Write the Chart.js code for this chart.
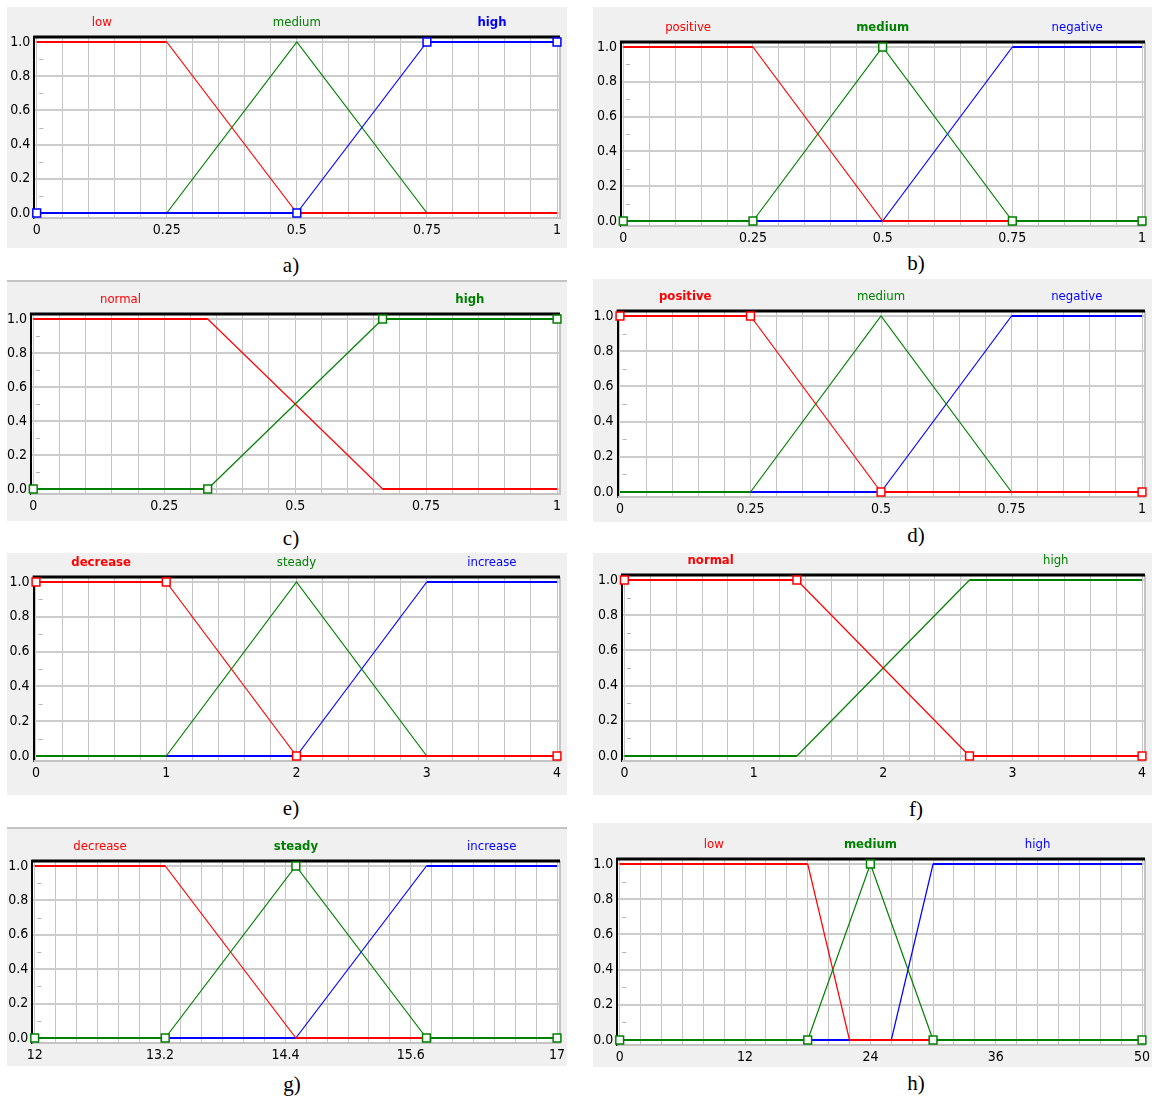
<!DOCTYPE html>
<html>
<head>
<meta charset="utf-8">
<script src="https://cdn.jsdelivr.net/npm/chart.js@4.4.1/dist/chart.umd.min.js"></script>
<style>
  html, body { margin: 0; padding: 0; background: #fff; }
  body { width: 1152px; height: 1100px; position: relative; overflow: hidden; }
  .panel { position: absolute; background: #f0f0f0; }
  .panel.edged { box-shadow: inset 0 2px 0 #c4c4c4; }
  .panel canvas { display: block; }
  .caption {
    position: absolute;
    font-family: 'Liberation Serif', 'Times New Roman', serif;
    font-size: 21px;
    line-height: 1;
    transform: translate(-50%, -50%);
    color: #000;
  }
</style>
</head>
<body>
<script>
// membership functions, [x, degree] pairs
const aLow = [[0, 1], [0.25, 1], [0.5, 0], [1, 0]];
const aMedium = [[0, 0], [0.25, 0], [0.5, 1], [0.75, 0], [1, 0]];
const aHigh = [[0, 0], [0.5, 0], [0.75, 1], [1, 1]];

const bPositive = [[0, 1], [0.25, 1], [0.5, 0], [1, 0]];
const bMedium = [[0, 0], [0.25, 0], [0.5, 1], [0.75, 0], [1, 0]];
const bNegative = [[0, 0], [0.5, 0], [0.75, 1], [1, 1]];

const cNormal = [[0, 1], [0.333, 1], [0.667, 0], [1, 0]];
const cHigh = [[0, 0], [0.333, 0], [0.667, 1], [1, 1]];

const dPositive = [[0, 1], [0.25, 1], [0.5, 0], [1, 0]];
const dMedium = [[0, 0], [0.25, 0], [0.5, 1], [0.75, 0], [1, 0]];
const dNegative = [[0, 0], [0.5, 0], [0.75, 1], [1, 1]];

const eDecrease = [[0, 1], [1, 1], [2, 0], [4, 0]];
const eSteady = [[0, 0], [1, 0], [2, 1], [3, 0], [4, 0]];
const eIncrease = [[0, 0], [2, 0], [3, 1], [4, 1]];

const fNormal = [[0, 1], [1.333, 1], [2.667, 0], [4, 0]];
const fHigh = [[0, 0], [1.333, 0], [2.667, 1], [4, 1]];

const gDecrease = [[12, 1], [13.25, 1], [14.5, 0], [17, 0]];
const gSteady = [[12, 0], [13.25, 0], [14.5, 1], [15.75, 0], [17, 0]];
const gIncrease = [[12, 0], [14.5, 0], [15.75, 1], [17, 1]];

const hLow = [[0, 1], [18, 1], [22, 0], [50, 0]];
const hMedium = [[0, 0], [18, 0], [24, 1], [30, 0], [50, 0]];
const hHigh = [[0, 0], [26, 0], [30, 1], [50, 1]];

// tick labels
const unitTicks = [0, 0.25, 0.5, 0.75, 1];
const fourTicks = [0, 1, 2, 3, 4];
const gTicks = [12, 13.2, 14.4, 15.6, 17];
const hTicks = [0, 12, 24, 36, 50];
const yTickLabels = [0, 0.2, 0.4, 0.6, 0.8, 1];

const RED = '#ff0000';
const GREEN = '#008000';
const BLUE = '#0000ff';
const NARROW = "'Liberation Sans Narrow', 'DejaVu Sans Condensed', 'Arial Narrow', sans-serif";

// box = panel background [left, top, width, height]; px0/px1 = pixel of first/last x tick,
// py1/py0 = pixel of degree 1 / 0 (whole pixels so the flat lines stay crisp)
const panels = [
  { box: [7, 7, 560, 241], px0: 36.7, px1: 558.7, py1: 42, py0: 213, caption: ['a)', 291, 265],
    ticks: unitTicks, step: 0.05, selected: 'high',
    series: [['low', aLow, RED], ['medium', aMedium, GREEN], ['high', aHigh, BLUE]] },
  { box: [593, 7, 559, 241], px0: 623.3, px1: 1148.7, py1: 47, py0: 221, caption: ['b)', 916, 263],
    ticks: unitTicks, step: 0.05, selected: 'medium',
    series: [['positive', bPositive, RED], ['medium', bMedium, GREEN], ['negative', bNegative, BLUE]] },
  { box: [7, 280, 560, 241], px0: 33.3, px1: 564.3, py1: 319, py0: 489, caption: ['c)', 291, 538],
    ticks: unitTicks, step: 0.05, selected: 'high', edged: true,
    series: [['normal', cNormal, RED], ['high', cHigh, GREEN]] },
  { box: [593, 279, 559, 243], px0: 620, px1: 1146, py1: 316, py0: 492, caption: ['d)', 916, 535],
    ticks: unitTicks, step: 0.05, selected: 'positive',
    series: [['positive', dPositive, RED], ['medium', dMedium, GREEN], ['negative', dNegative, BLUE]] },
  { box: [7, 553, 560, 242], px0: 36, px1: 557.3, py1: 582, py0: 756, caption: ['e)', 291, 808],
    ticks: fourTicks, step: 0.2, selected: 'decrease',
    series: [['decrease', eDecrease, RED], ['steady', eSteady, GREEN], ['increase', eIncrease, BLUE]] },
  { box: [593, 553, 559, 242], px0: 624.4, px1: 1145.9, py1: 580, py0: 756, caption: ['f)', 916, 809],
    ticks: fourTicks, step: 0.2, selected: 'normal',
    series: [['normal', fNormal, RED], ['high', fHigh, GREEN]] },
  { box: [7, 827, 560, 239], px0: 34.7, px1: 559.7, py1: 866, py0: 1038, caption: ['g)', 292, 1084],
    ticks: gTicks, step: 0.2, selected: 'steady', edged: true,
    series: [['decrease', gDecrease, RED], ['steady', gSteady, GREEN], ['increase', gIncrease, BLUE]] },
  { box: [593, 823, 559, 244], px0: 619.7, px1: 1143.2, py1: 864, py0: 1040, caption: ['h)', 916, 1083],
    ticks: hTicks, step: 2, selected: 'medium',
    series: [['low', hLow, RED], ['medium', hMedium, GREEN], ['high', hHigh, BLUE]] },
];

const colorOrder = [RED, GREEN, BLUE];
const round6 = v => Math.round(v * 1e6) / 1e6;

const yMinor = yTickLabels.slice(1).map((v, i) => round6((v + yTickLabels[i]) / 2));
const yGrid = [...yTickLabels, ...yMinor].sort((p, q) => p - q);
const isMajorY = v => yTickLabels.some(t => Math.abs(t - v) < 1e-6);

function buildPanel(p) {
  const [bx, by, bw, bh] = p.box;
  const div = document.createElement('div');
  div.className = 'panel' + (p.edged ? ' edged' : '');
  Object.assign(div.style, { left: bx + 'px', top: by + 'px', width: bw + 'px', height: bh + 'px' });
  const canvas = document.createElement('canvas');
  canvas.width = bw;
  canvas.height = bh;
  div.appendChild(canvas);
  document.body.appendChild(div);

  const cap = document.createElement('div');
  cap.className = 'caption';
  cap.textContent = p.caption[0];
  cap.style.left = p.caption[1] + 'px';
  cap.style.top = p.caption[2] + 'px';
  document.body.appendChild(cap);

  const lo = p.ticks[0];
  const hi = p.ticks[p.ticks.length - 1];
  const ppuX = (p.px1 - p.px0) / (hi - lo);
  const ppuY = p.py0 - p.py1;
  const area = {
    left: p.px0 - 2.4 - bx,
    right: p.px1 + 3 - bx,
    top: p.py1 - 5 - by,
    bottom: p.py0 + 5 - by,
  };

  const xGrid = [];
  const n = Math.round((hi - lo) / p.step);
  for (let k = 0; k <= n; k++) xGrid.push(round6(lo + k * p.step));

  const ordered = [...p.series].sort((s, t) => {
    if (s[0] === p.selected) return -1;
    if (t[0] === p.selected) return 1;
    return colorOrder.indexOf(s[2]) - colorOrder.indexOf(t[2]);
  });

  const datasets = ordered.map(([name, pts, color]) => {
    const sel = name === p.selected;
    return {
      label: name,
      data: pts.map(([x, y]) => ({ x, y })),
      borderColor: color,
      backgroundColor: color,
      borderWidth: 2,
      segment: {
        borderWidth: ctx => (ctx.p0.parsed.y === ctx.p1.parsed.y ? 2 : 1.2),
      },
      tension: 0,
      fill: false,
      clip: false,
      pointStyle: 'rect',
      pointRadius: sel ? 5.5 : 0,
      pointHoverRadius: 0,
      pointBorderWidth: 1.5,
      pointBackgroundColor: '#fff',
      pointBorderColor: color,
    };
  });

  const framePlugin = {
    id: 'frame',
    beforeDraw(chart) {
      const { ctx, chartArea: a } = chart;
      ctx.save();
      ctx.fillStyle = '#fff';
      ctx.fillRect(a.left, a.top, a.right - a.left, a.bottom - a.top);
      ctx.restore();
    },
    beforeDatasetsDraw(chart) {
      const { ctx, chartArea: a, scales } = chart;
      ctx.save();
      ctx.strokeStyle = '#b4b4b4';
      ctx.lineWidth = 1;
      ctx.beginPath();
      yMinor.forEach(v => {
        const yy = Math.round(scales.y.getPixelForValue(v)) + 0.5;
        ctx.moveTo(a.left + 5, yy);
        ctx.lineTo(a.left + 9, yy);
      });
      ctx.stroke();
      ctx.strokeStyle = '#c4c4c4';
      ctx.lineWidth = 2;
      ctx.beginPath();
      ctx.moveTo(a.left, a.bottom);
      ctx.lineTo(a.right, a.bottom);
      ctx.lineTo(a.right, a.top);
      ctx.stroke();
      ctx.fillStyle = '#000';
      ctx.fillRect(a.left - 1, a.top - 1.5, a.right - a.left + 1, 3);
      ctx.restore();
    },
    afterDraw(chart) {
      const { ctx, chartArea: a, scales } = chart;
      ctx.save();
      ctx.textAlign = 'center';
      ctx.textBaseline = 'middle';
      p.series.forEach(([name, pts, color]) => {
        const core = pts.filter(pt => pt[1] === 1).map(pt => pt[0]);
        const mid = core.reduce((s, v) => s + v, 0) / core.length;
        ctx.font = (name === p.selected ? 'bold ' : '') + '13px ' + NARROW;
        ctx.fillStyle = color;
        ctx.fillText(name, scales.x.getPixelForValue(mid), a.top - 14);
      });
      ctx.restore();
    },
  };

  new Chart(canvas, {
    type: 'line',
    data: { datasets },
    options: {
      responsive: false,
      animation: false,
      events: [],
      layout: { padding: { left: 0, top: area.top, right: bw - area.right, bottom: 0 } },
      plugins: { legend: { display: false }, tooltip: { enabled: false } },
      scales: {
        x: {
          type: 'linear',
          min: lo - 2.4 / ppuX,
          max: hi + 3 / ppuX,
          afterBuildTicks: sc => { sc.ticks = xGrid.map(v => ({ value: v })); },
          afterFit: sc => { sc.height = bh - area.bottom; sc.paddingLeft = 0; sc.paddingRight = 0; },
          grid: { color: '#c4c4c4', lineWidth: 1, drawTicks: false },
          border: { display: false },
          ticks: {
            autoSkip: false,
            maxRotation: 0,
            padding: 4,
            color: '#000',
            font: { family: NARROW, size: 14 },
            callback: v => {
              const t = p.ticks.find(tv => Math.abs(tv - v) < 1e-6);
              return t === undefined ? '' : String(t);
            },
          },
        },
        y: {
          type: 'linear',
          min: -5 / ppuY,
          max: 1 + 5 / ppuY,
          afterBuildTicks: sc => { sc.ticks = yGrid.map(v => ({ value: v })); },
          afterFit: sc => { sc.width = area.left; sc.paddingTop = 0; sc.paddingBottom = 0; },
          grid: {
            color: ctx => (ctx.tick && isMajorY(ctx.tick.value) ? '#cccccc' : 'rgba(0,0,0,0)'),
            lineWidth: 2,
            drawTicks: false,
          },
          border: { color: '#000', width: 2 },
          ticks: {
            autoSkip: false,
            padding: 4,
            color: '#000',
            font: { family: NARROW, size: 14 },
            callback: v => (isMajorY(v) ? v.toFixed(1) : ''),
          },
        },
      },
    },
    plugins: [framePlugin],
  });
}

panels.forEach(buildPanel);
</script>
</body>
</html>
